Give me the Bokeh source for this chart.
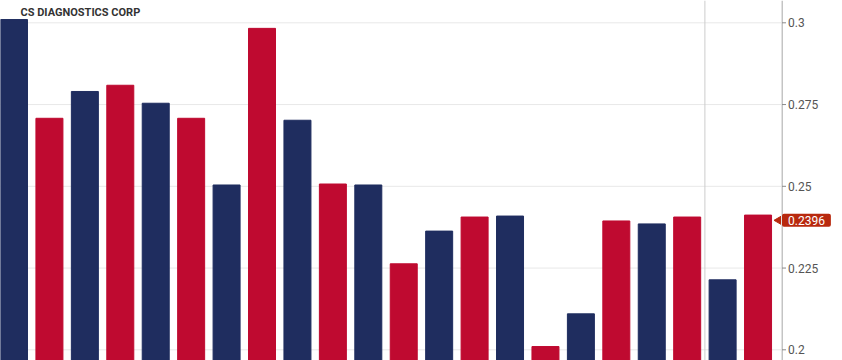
from math import pi
from bokeh.plotting import figure
from bokeh.layouts import row
from bokeh.models import Range1d, Span, Label, ColumnDataSource
from bokeh.core.properties import value
from bokeh.embed import file_html
from bokeh.resources import INLINE

title_text = "CS DIAGNOSTICS CORP"
prices = [0.3010, 0.2708, 0.2790, 0.2809, 0.2754, 0.2708, 0.2504, 0.2983, 0.2702, 0.2507,
          0.2504, 0.2263, 0.2363, 0.2406, 0.2409, 0.2010, 0.2110, 0.2394, 0.2385, 0.2406,
          0.2214, 0.2412]
last_price = 0.2396
tick_values = [0.2, 0.225, 0.25, 0.275, 0.3]
tick_labels = ["0.2", "0.225", "0.25", "0.275", "0.3"]
crosshair_at = 19.5

NAVY = "#1f2d5f"
RED = "#bf0a30"
TAG = "#b8290e"
AXIS = "#8a8a8a"
idx = list(range(len(prices)))
colors = [NAVY if i % 2 == 0 else RED for i in idx]

x_start, x_end = -0.381, 21.662
y_range = Range1d(0.19673, 0.30682)

src = ColumnDataSource(dict(x=idx, top=prices, color=colors))

# ---- main chart ----
p = figure(width=781, height=360, output_backend="svg", toolbar_location=None,
           x_axis_location=None, y_axis_location=None,
           x_range=Range1d(x_start, x_end), y_range=y_range,
           min_border_left=0, min_border_top=0, min_border_bottom=0, min_border_right=0)
p.outline_line_color = None
p.background_fill_color = "white"
p.border_fill_color = "white"

p.vbar(x="x", top="top", bottom=y_range.start, width=0.762, color="color", source=src)

p.xgrid.visible = False
p.ygrid.visible = False
for t in tick_values:
    p.add_layout(Span(location=t, dimension="width", line_color="#e8e8e8", line_width=1,
                      level="underlay"))

p.add_layout(Span(location=crosshair_at, dimension="height", line_color="#cccccc", line_width=1))

p.add_layout(Label(x=x_start, y=y_range.end, x_offset=20, y_offset=-5, text=title_text,
                   anchor="top_left", text_font="Roboto",
                   text_font_style="bold", text_font_size="11px", text_color="#333333"))

p.scatter(x=[x_end], y=[last_price], marker="triangle", angle=pi / 2, size=13, color=TAG)

# ---- right-hand price scale ----
a = figure(width=61, height=360, output_backend="svg", toolbar_location=None,
           x_axis_location=None, y_axis_location=None,
           x_range=Range1d(-0.5, 60.5), y_range=y_range,
           min_border_left=0, min_border_top=0, min_border_bottom=0, min_border_right=0)
a.outline_line_color = None
a.xgrid.visible = False
a.ygrid.visible = False
a.background_fill_color = "white"
a.border_fill_color = "white"

a.add_layout(Span(location=0, dimension="height", line_color=AXIS, line_width=1))
a.segment(x0=[0] * len(tick_values), x1=[4] * len(tick_values), y0=tick_values, y1=tick_values,
          line_color=AXIS, line_width=1)
a.text(x=[6] * len(tick_values), y=tick_values, text=tick_labels,
       text_font=value("Roboto"), text_font_size="12px", text_color="#555555",
       text_baseline="middle", text_align="left")

try:
    pad = dict(left=6, right=6, top=2, bottom=2)
    tag = Label(x=0, y=last_price, text=f"{last_price}", anchor="center_left",
                text_font="Roboto", text_font_size="12px", text_color="white",
                background_fill_color=TAG, padding=pad, border_radius=2)
except Exception:
    tag = Label(x=0, y=last_price, text=f"{last_price}", anchor="center_left",
                text_font="Roboto", text_font_size="12px", text_color="white",
                background_fill_color=TAG, padding=4, border_radius=2)
a.add_layout(tag)

layout = row(p, a, spacing=0)
open("out.html", "w").write(file_html(layout, INLINE))
